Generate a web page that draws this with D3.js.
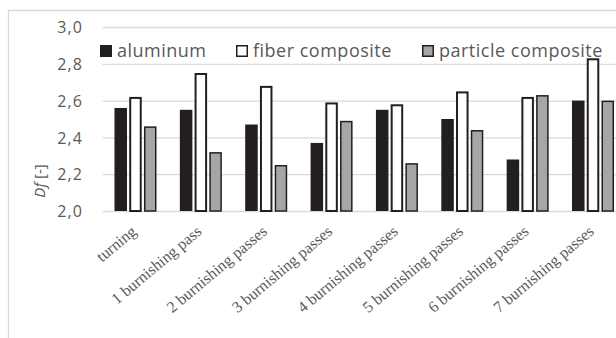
<!DOCTYPE html>
<html><head><meta charset="utf-8">
<script src="https://cdn.jsdelivr.net/npm/d3@7"></script>
<style>body{margin:0;background:#fff}svg{display:block}</style>
</head><body>
<svg id="c" width="616" height="338"></svg>
<script>
const categories = ["turning","1 burnishing pass","2 burnishing passes","3 burnishing passes","4 burnishing passes","5 burnishing passes","6 burnishing passes","7 burnishing passes"];
const seriesNames = ["aluminum","fiber composite","particle composite"];
const aluminum = [2.56,2.55,2.47,2.37,2.55,2.50,2.28,2.60];
const fiber = [2.62,2.75,2.68,2.59,2.58,2.65,2.62,2.83];
const particle = [2.46,2.32,2.25,2.49,2.26,2.44,2.63,2.60];
const yTicks = [2.0,2.2,2.4,2.6,2.8,3.0];

(function(){
const svg = d3.select("#c");
const pLeft = 102.8, pRight = 625.7, pTop = 27, pBottom = 211;
const fills = ["#231f20","#ffffff","#a6a6a6"];
const strokes = [null,"#231f20","#231f20"];
const sw = [0,2,1.5];
const values = [aluminum, fiber, particle];

svg.append("path").attr("d","M8.5,338 V10.5 H616").attr("fill","none").attr("stroke","#d9d9d9").attr("stroke-width",1.3);

const x0 = d3.scaleBand().domain(categories).range([pLeft,pRight]).padding(0);
const x1 = d3.scaleBand().domain(seriesNames).range([-21,21]).paddingInner(0.15);
const y = d3.scaleLinear().domain([2,3]).range([pBottom,pTop]);

const yAxis = d3.axisLeft(y).tickValues(yTicks).tickSize(-(pRight-pLeft)).tickFormat(d=>d3.format(".1f")(d).replace(".",","));
const ga = svg.append("g").attr("transform",`translate(${pLeft},0)`).call(yAxis);
ga.select(".domain").remove();
ga.selectAll(".tick line").attr("stroke","#d9d9d9").attr("stroke-width",1.3);
ga.selectAll(".tick text").attr("x",-20).attr("fill","#595959").attr("font-family","Open Sans").attr("font-size",16).attr("letter-spacing",1).attr("dy","0.35em");

seriesNames.forEach((s,si)=>{
  svg.append("g").selectAll("rect").data(values[si]).join("rect")
    .attr("x",(d,i)=>x0(categories[i])+x0.bandwidth()/2+x1(s)+sw[si]/2)
    .attr("y",d=>y(d)+sw[si]/2)
    .attr("width",x1.bandwidth()-sw[si])
    .attr("height",d=>y(2)-y(d)-sw[si]/2)
    .attr("fill",fills[si])
    .attr("stroke",strokes[si])
    .attr("stroke-width",sw[si]);
});

const xAxis = d3.axisBottom(x0).tickSize(0);
const gx = svg.append("g").attr("transform",`translate(0,${pBottom})`).call(xAxis);
gx.select(".domain").remove();
gx.selectAll(".tick text").attr("font-family","Liberation Serif").attr("font-size",16).attr("fill","#595959")
  .attr("text-anchor","end").attr("x",0).attr("y",0).attr("dy",0)
  .attr("transform","translate(2,22) rotate(-40)");

const legX = [100,236,422];
const lg = svg.append("g");
seriesNames.forEach((s,si)=>{
  const g = lg.append("g").attr("transform",`translate(${legX[si]},45)`);
  g.append("rect").attr("x",0.75).attr("y",0.75).attr("width",10.5).attr("height",10.5)
    .attr("fill",fills[si]).attr("stroke","#231f20").attr("stroke-width",1.5);
  g.append("text").attr("x",17).attr("y",12).attr("font-family","Open Sans").attr("font-size",18)
    .attr("letter-spacing",0.5).attr("fill","#595959").text(s);
});

const yl = svg.append("text").attr("transform","translate(45,181) rotate(-90)").attr("text-anchor","middle")
  .attr("font-family","Open Sans").attr("font-size",15).attr("fill","#595959");
yl.append("tspan").attr("font-style","italic").text("Df");
yl.append("tspan").text(" [-]");
})();
</script>
</body></html>
